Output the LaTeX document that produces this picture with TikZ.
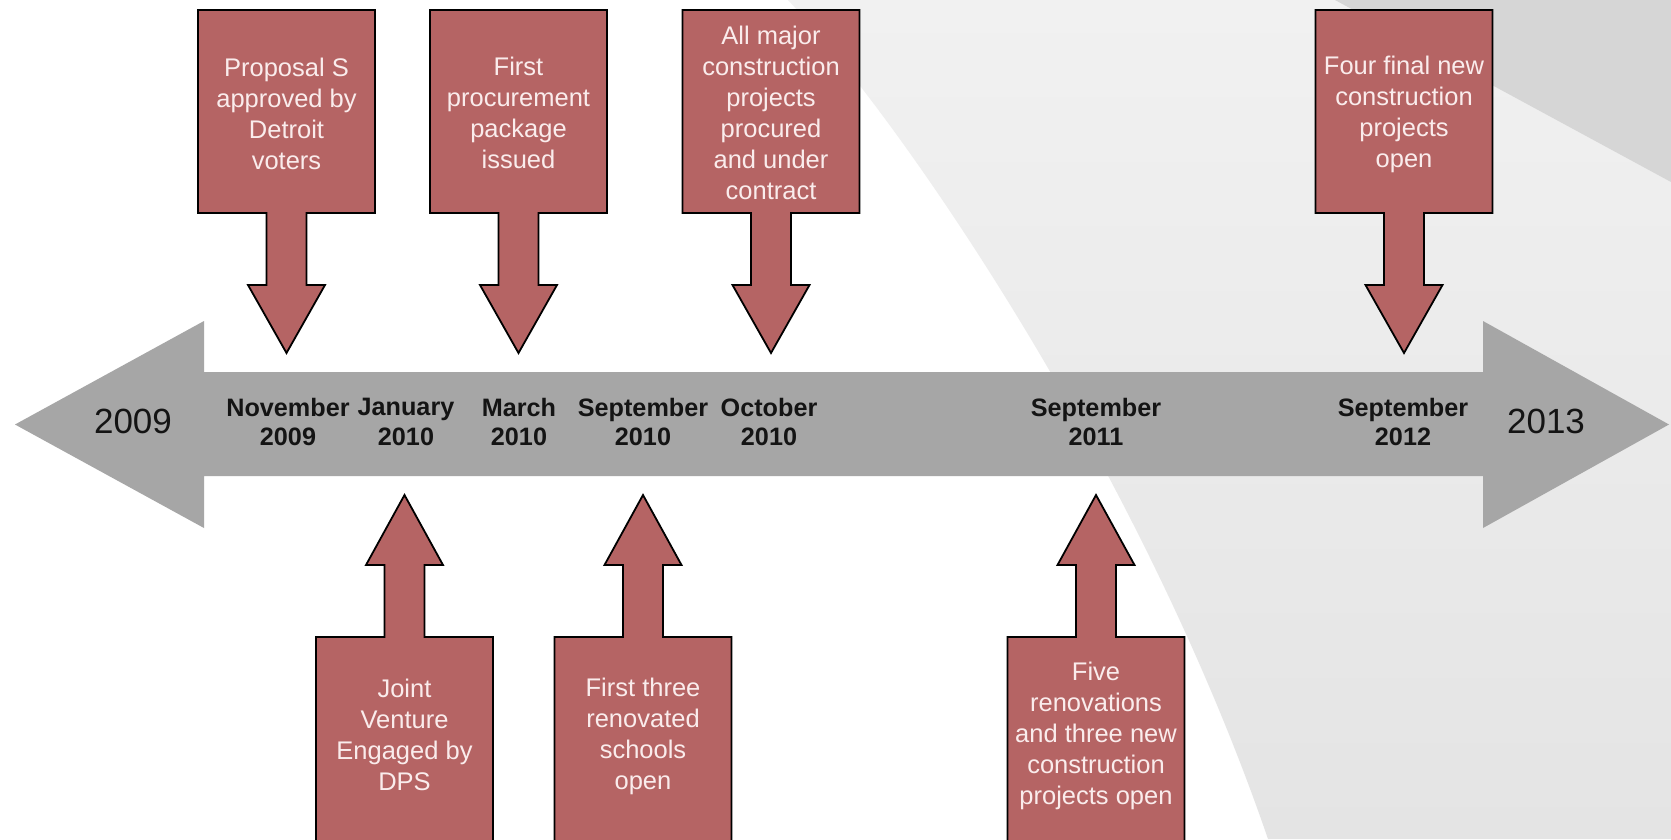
\documentclass[tikz,border=0pt]{standalone}
\usepackage{fontspec}
\setmainfont{Liberation Sans}
\definecolor{boxred}{RGB}{181,100,100}
\definecolor{boxtext}{RGB}{250,236,236}
\definecolor{shaftgray}{RGB}{166,166,166}
\definecolor{bgtop}{RGB}{241,241,241}
\definecolor{bgbot}{RGB}{228,228,228}
\definecolor{bgdark}{RGB}{214,214,214}
\definecolor{inkblack}{RGB}{20,20,20}
\newcommand\downcall[1]{\draw[callout] ({#1-88.5},10) -- ({#1+88.5},10) -- ({#1+88.5},213) -- ({#1+20},213) -- ({#1+20},285) -- ({#1+38.5},285) -- (#1,353) -- ({#1-38.5},285) -- ({#1-20},285) -- ({#1-20},213) -- ({#1-88.5},213) -- cycle;}
\newcommand\upcall[1]{\draw[callout] ({#1-88.5},845) -- ({#1-88.5},637) -- ({#1-20},637) -- ({#1-20},565) -- ({#1-38.5},565) -- (#1,495) -- ({#1+38.5},565) -- ({#1+20},565) -- ({#1+20},637) -- ({#1+88.5},637) -- ({#1+88.5},845) -- cycle;}
\begin{document}
\begin{tikzpicture}[x=1pt,y=-1pt,
  callout/.style={fill=boxred,draw=black,line width=1.8pt,line join=miter},
  boxtxt/.style={text=boxtext,align=center,font=\fontsize{25.5}{31}\selectfont,inner sep=0pt},
  datelbl/.style={text=inkblack,align=center,font=\fontsize{25.2}{29.5}\selectfont\bfseries,inner sep=0pt},
  yearlbl/.style={text=inkblack,font=\fontsize{35}{40}\selectfont,inner sep=0pt}]
\useasboundingbox (0,0) rectangle (1671,839);
\clip (0,0) rectangle (1671,839);
\fill[white] (0,0) rectangle (1671,839);
\shade[top color=bgtop,bottom color=bgbot] (788,0) .. controls (910,130) and (1145,480) .. (1268,839) -- (1671,839) -- (1671,0) -- cycle;
\fill[bgdark] (1335,0) -- (1671,182) -- (1671,0) -- cycle;
% timeline
\fill[shaftgray] (15,424.5) -- (204,321) -- (204,372) -- (1483,372) -- (1483,321) -- (1669,424.5) -- (1483,528) -- (1483,476) -- (204,476) -- (204,528) -- cycle;
% callouts
\downcall{286.5}
\downcall{518.5}
\downcall{771}
\downcall{1404}
\upcall{404.5}
\upcall{643}
\upcall{1096}
% callout texts
\node[boxtxt] (t1) at (286.5,114) {Proposal S\\approved by\\Detroit\\voters};
\node[boxtxt] (t2) at (518.5,113) {First\\procurement\\package\\issued};
\node[boxtxt] (t3) at (771,113) {All major\\construction\\projects\\procured\\and under\\contract};
\node[boxtxt] (t4) at (1404,114) {Four final new\\construction\\projects\\open};
\node[boxtxt] (b1) at (404.5,735) {Joint\\Venture\\Engaged by\\DPS};
\node[boxtxt] (b2) at (643,736) {First three\\renovated\\schools\\open};
\node[boxtxt] (b3) at (1096,736) {Five\\renovations\\and three new\\construction\\projects open};
% date labels
\node[datelbl] (d1) at (288,422) {November\\2009};
\node[datelbl] (d2) at (406,422) {January\\2010};
\node[datelbl] (d3) at (519,422) {March\\2010};
\node[datelbl] (d4) at (643,422) {September\\2010};
\node[datelbl] (d5) at (769,422) {October\\2010};
\node[datelbl] (d6) at (1096,422) {September\\2011};
\node[datelbl] (d7) at (1403,422) {September\\2012};
% years
\node[yearlbl] (y1) at (133,421) {2009};
\node[yearlbl] (y2) at (1546,421) {2013};
\end{tikzpicture}
\end{document}
